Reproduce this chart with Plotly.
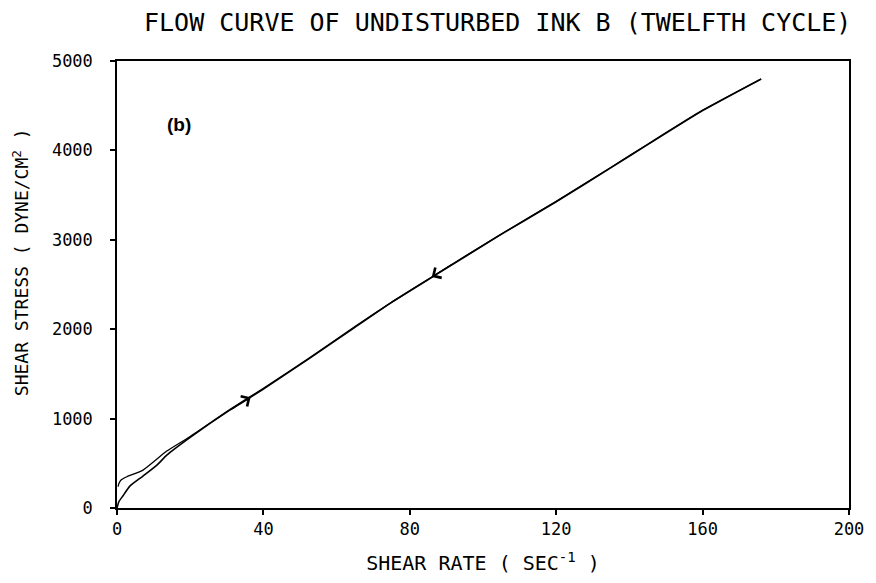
import plotly.graph_objects as go

# Flow curve, twelfth cycle: loading branch (rate increasing) and unloading branch
up_rate = [0.0, 0.5, 1.6, 3.5, 7.1, 10.9, 13.6, 20.0, 30.8, 40.0, 52.6, 65.0,
           75.0, 87.2, 104.4, 120.0, 135.1, 145.2, 160.0, 176.0]
up_stress = [0, 70, 134, 245, 357, 480, 591, 790, 1094, 1330, 1674, 2020,
             2300, 2610, 3047, 3425, 3810, 4070, 4445, 4799]

down_rate = [176.0, 160.0, 145.2, 135.1, 120.0, 104.4, 87.2, 75.0, 65.0, 52.6,
             40.0, 30.8, 20.0, 13.6, 7.1, 2.7, 1.1, 0.5, 0.3]
down_stress = [4799, 4450, 4075, 3815, 3430, 3050, 2615, 2300, 2030, 1680,
               1340, 1100, 800, 637, 424, 350, 313, 270, 240]

x_ticks = [0, 40, 80, 120, 160, 200]
y_ticks = [0, 1000, 2000, 3000, 4000, 5000]

# direction markers: (tip_rate, tip_stress, tail_rate, tail_stress)
arrow_up = (36.5, 1240, 31.0, 1099)
arrow_down = (86.0, 2585, 92.0, 2737)

MONO = "DejaVu Sans Mono"

fig = go.Figure()
fig.add_trace(go.Scatter(x=up_rate, y=up_stress, mode="lines",
                         line=dict(color="black", width=1.6, shape="spline", smoothing=0.5),
                         showlegend=False, cliponaxis=False))
fig.add_trace(go.Scatter(x=down_rate, y=down_stress, mode="lines",
                         line=dict(color="black", width=1.3, shape="spline", smoothing=0.5),
                         showlegend=False, cliponaxis=False))

for tip_x, tip_y, tail_x, tail_y in (arrow_up, arrow_down):
    fig.add_annotation(x=tip_x, y=tip_y, ax=tail_x, ay=tail_y,
                       xref="x", yref="y", axref="x", ayref="y",
                       text="", showarrow=True, arrowhead=4, arrowsize=1.8,
                       arrowwidth=1.3, arrowcolor="black")

fig.add_annotation(x=17, y=4285, xref="x", yref="y", text="<b>(b)</b>",
                   showarrow=False, font=dict(family="Liberation Sans", size=19, color="black"))

fig.add_annotation(x=0.52, y=1.0, xref="paper", yref="paper", yanchor="bottom",
                   yshift=22, text="FLOW CURVE OF UNDISTURBED INK B (TWELFTH CYCLE)",
                   showarrow=False, font=dict(family=MONO, size=25, color="black"))

# vertical axis caption, placed as free text so it can sit slightly above centre
fig.add_annotation(x=0, y=0.55, xref="paper", yref="paper", xanchor="center",
                   yanchor="middle", xshift=-96, textangle=-90,
                   text="SHEAR STRESS ( DYNE/CM<sup>2</sup> )", showarrow=False,
                   font=dict(family=MONO, size=18, color="black"))

fig.update_layout(
    width=876, height=583,
    margin=dict(l=117, r=24, t=61, b=73),
    paper_bgcolor="white", plot_bgcolor="white",
    font=dict(family=MONO, color="black"),
)
fig.update_xaxes(range=[0, 200], tickvals=x_ticks, ticktext=[str(v) for v in x_ticks],
                 showgrid=False, zeroline=False, showline=True, linecolor="black",
                 linewidth=1.5, mirror=True, ticks="outside", ticklen=5,
                 tickcolor="black", tickwidth=1.5, tickfont=dict(family=MONO, size=17),
                 title=dict(text="SHEAR RATE ( SEC<sup>-1</sup> )",
                            font=dict(family=MONO, size=20), standoff=18))
fig.update_yaxes(range=[0, 5000], tickvals=y_ticks, ticktext=[str(v) for v in y_ticks],
                 showgrid=False, zeroline=False, showline=True, linecolor="black",
                 linewidth=1.5, mirror=True, ticks="outside", ticklen=5,
                 tickcolor="black", tickwidth=1.5, tickfont=dict(family=MONO, size=17),
                 ticklabelstandoff=14)

fig.write_html("out.html")
